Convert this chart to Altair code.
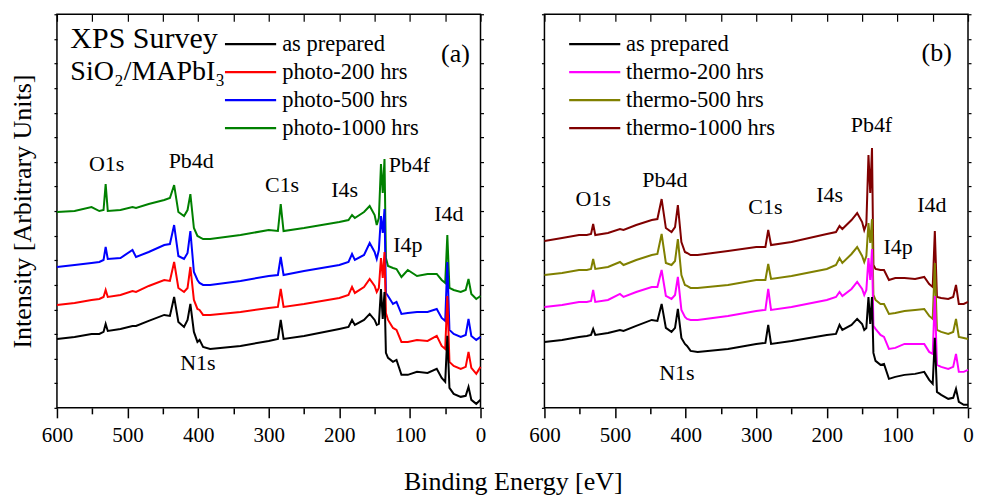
import altair as alt
import pandas as pd

FONT = "Liberation Serif"

# Binding energy grid (eV) shared by every spectrum
energy = [600, 575, 551, 540, 534, 531, 528, 510, 493, 488, 470, 448, 440, 434, 428, 420, 415, 411,
          406, 401, 398, 393, 383, 340, 300, 287, 283, 279, 250, 200, 187, 182, 178, 165, 157, 150,
          147, 144, 141, 138.5, 136, 134, 131, 124, 119, 112, 103, 90, 75, 62, 55, 50, 47, 44, 38,
          28, 21, 17, 13, 6, 0]

# Panel (a) - photo aged (arbitrary intensity units, vertically offset as plotted)
as_prepared_a = [69, 71, 74, 74, 76, 84, 77, 79, 82, 82, 87, 93, 92, 111, 86, 81, 88, 104,
                 76, 66, 68, 61, 59, 62, 67, 69, 88, 69, 72, 79, 81, 88, 83, 88, 94, 88,
                 83, 84, 119, 89, 116, 55, 50, 46, 48, 33, 33, 36, 35, 39, 30, 26, 72, 20, 14,
                 11, 12, 21, 8, 4, 8]
photo_200 = [103, 105, 108, 109, 111, 118, 111, 113, 117, 116, 122, 128, 127, 146, 120, 116, 120, 141,
             108, 99, 98, 93, 93, 96, 100, 101, 119, 101, 104, 110, 113, 121, 115, 121, 129, 122,
             116, 120, 150, 130, 156, 95, 88, 80, 78, 66, 66, 68, 67, 72, 62, 59, 112, 46, 42,
             39, 41, 56, 40, 34, 41]
photo_500 = [141, 143, 145, 146, 148, 161, 149, 150, 158, 151, 156, 163, 164, 183, 152, 149, 155, 177,
             136, 128, 125, 123, 123, 127, 132, 133, 151, 133, 137, 143, 146, 154, 148, 153, 165, 156,
             149, 158, 192, 175, 199, 115, 112, 104, 106, 94, 95, 96, 96, 99, 90, 87, 146, 78, 74,
             71, 73, 89, 72, 68, 71]
photo_1000 = [196, 197, 201, 197, 198, 224, 197, 198, 201, 200, 204, 208, 210, 223, 196, 192, 198, 214,
              180, 172, 171, 169, 169, 173, 178, 177, 204, 177, 180, 186, 188, 193, 190, 196, 202, 193,
              183, 190, 244, 215, 249, 150, 142, 140, 139, 131, 138, 132, 134, 134, 128, 125, 173, 120, 118,
              116, 118, 129, 114, 109, 112]

# Panel (b) - thermally aged
as_prepared_b = [66, 68, 71, 72, 73, 79, 73, 75, 78, 77, 82, 88, 87, 104, 80, 76, 80, 99,
                 70, 64, 62, 57, 56, 59, 64, 65, 83, 64, 67, 73, 74, 83, 78, 83, 89, 84,
                 78, 80, 111, 84, 111, 55, 47, 43, 44, 29, 31, 33, 34, 36, 28, 24, 70, 16, 13,
                 9, 10, 19, 6, 3, 3]
thermo_200 = [101, 103, 106, 106, 107, 118, 106, 108, 114, 111, 116, 121, 121, 138, 112, 109, 113, 131,
              98, 91, 89, 88, 88, 92, 97, 98, 119, 98, 101, 108, 111, 116, 112, 119, 126, 119,
              113, 118, 150, 128, 159, 82, 79, 73, 71, 59, 60, 64, 64, 64, 56, 54, 112, 43, 41,
              39, 41, 54, 36, 36, 38]
thermo_500 = [133, 135, 138, 138, 139, 149, 139, 141, 146, 143, 148, 153, 154, 174, 145, 143, 147, 169,
              133, 123, 122, 120, 120, 123, 128, 128, 144, 129, 132, 139, 143, 150, 145, 154, 161, 152,
              146, 152, 185, 165, 189, 113, 108, 104, 104, 94, 95, 97, 98, 99, 92, 89, 145, 78, 76,
              74, 76, 89, 71, 70, 69]
thermo_1000 = [167, 170, 173, 173, 174, 184, 173, 175, 179, 178, 183, 188, 189, 209, 180, 176, 181, 203,
               166, 156, 155, 153, 153, 157, 161, 161, 178, 163, 166, 174, 176, 182, 179, 188, 195, 186,
               178, 184, 253, 215, 260, 143, 139, 138, 138, 128, 130, 130, 129, 131, 124, 121, 177, 111, 110,
               109, 111, 123, 104, 104, 106]

names_a = ["as prepared", "photo-200 hrs", "photo-500 hrs", "photo-1000 hrs"]
colors_a = ["#000000", "#ff0000", "#0000ff", "#008000"]
series_a = [as_prepared_a, photo_200, photo_500, photo_1000]

names_b = ["as prepared", "thermo-200 hrs", "thermo-500 hrs", "thermo-1000 hrs"]
colors_b = ["#000000", "#ff00ff", "#808000", "#800000"]
series_b = [as_prepared_b, thermo_200, thermo_500, thermo_1000]

peak_labels = ["O1s", "Pb4d", "C1s", "I4s", "Pb4f", "I4p", "I4d", "N1s"]
peak_e_a = [529.6, 409.8, 281.1, 192.6, 100.7, 103, 44.8, 400.4]
peak_h_a = [244, 247, 223, 218, 243, 163, 194, 45]
peak_e_b = [531, 429.5, 287, 196, 136.8, 99, 51.3, 412.3]
peak_h_b = [209, 228, 201, 213, 283, 161, 203, 35]

Y_MAX = 394
PANEL_W = 424
xscale = alt.Scale(domain=[0, 600], reverse=True, nice=False)
yscale = alt.Scale(domain=[0, Y_MAX], nice=False, zero=False)
y_ticks = [i * Y_MAX / 16 for i in range(17)]
x_ticks = list(range(0, 601, 50))


def make_panel(names, colors, series, pe, ph, legend_e1, legend_e2, label_e, with_title, extra):
    layers = []
    order = list(range(len(names)))[::-1]  # draw top series first, "as prepared" last
    first = True
    for i in order:
        df = pd.DataFrame({"E": energy, "h": series[i]})
        if first:
            xa = alt.Axis(values=x_ticks, orient="bottom", title=None, grid=False, domain=False,
                          labelExpr="datum.value % 100 === 0 ? datum.label : ''",
                          tickSize={"condition": {"test": "datum.value % 100 === 0", "value": 10}, "value": 6},
                          tickWidth=1.5, tickColor="black", labelFont=FONT, labelFontSize=21,
                          labelColor="black", labelPadding=7, labelFlush=False, labelOverlap=False)
            ya = alt.Axis(values=y_ticks, orient="left", labels=False, grid=False, domain=False,
                          tickSize=3, tickWidth=1.2, tickColor="black",
                          title="Intensity [Arbitrary Units]" if with_title else None,
                          titleFont=FONT, titleFontSize=26, titleFontWeight="normal",
                          titleColor="black", titlePadding=18)
            first = False
        else:
            xa = None
            ya = None
        layers.append(
            alt.Chart(df).mark_line(color=colors[i], strokeWidth=2).encode(
                x=alt.X("E:Q", scale=xscale, axis=xa),
                y=alt.Y("h:Q", scale=yscale, axis=ya),
            )
        )
    # peak annotations
    adf = pd.DataFrame({"E": pe, "h": ph, "t": peak_labels})
    layers.append(
        alt.Chart(adf).mark_text(font=FONT, fontSize=22, color="black", align="center", baseline="middle").encode(
            x=alt.X("E:Q", scale=xscale, axis=None),
            y=alt.Y("h:Q", scale=yscale, axis=None),
            text="t:N",
        )
    )
    # legend
    top_h = 364
    step = 28
    ldf = pd.DataFrame({
        "name": names,
        "color": colors,
        "h": [top_h - k * step for k in range(len(names))],
        "e1": legend_e1,
        "e2": legend_e2,
        "el": label_e,
    })
    layers.append(
        alt.Chart(ldf).mark_rule(strokeWidth=2.2).encode(
            x=alt.X("e1:Q", scale=xscale, axis=None),
            x2="e2:Q",
            y=alt.Y("h:Q", scale=yscale, axis=None),
            color=alt.Color("color:N", scale=None),
        )
    )
    layers.append(
        alt.Chart(ldf).mark_text(font=FONT, fontSize=22.5, color="black", align="left", baseline="middle").encode(
            x=alt.X("el:Q", scale=xscale, axis=None),
            y=alt.Y("h:Q", scale=yscale, axis=None),
            text="name:N",
        )
    )
    # extra texts (panel tag, sample title)
    for (txt, e, h, size, align) in extra:
        tdf = pd.DataFrame({"E": [e], "h": [h], "t": [txt]})
        layers.append(
            alt.Chart(tdf).mark_text(font=FONT, fontSize=size, color="black", align=align, baseline="middle").encode(
                x=alt.X("E:Q", scale=xscale, axis=None),
                y=alt.Y("h:Q", scale=yscale, axis=None),
                text="t:N",
            )
        )
    # frame ticks: top (pointing inward) and right
    fdf = pd.DataFrame({"E": energy, "h": series[0]})
    layers.append(
        alt.Chart(fdf).mark_point(opacity=0, size=1).encode(
            x=alt.X("E:Q", scale=xscale,
                    axis=alt.Axis(values=x_ticks, orient="top", labels=False, title=None, grid=False,
                                  domain=False, tickSize=7, offset=-7, tickWidth=1.2, tickColor="black")),
            y=alt.Y("h:Q", scale=yscale,
                    axis=alt.Axis(values=y_ticks, orient="right", labels=False, title=None, grid=False,
                                  domain=False, tickSize=3, tickWidth=1.2, tickColor="black")),
        )
    )
    return alt.layer(*layers).resolve_scale(x="independent", y="independent").properties(
        width=PANEL_W, height=Y_MAX
    )


panel_a = make_panel(names_a, colors_a, series_a, peak_e_a, peak_h_a, 362, 289.5, 281, True,
                     [("XPS Survey", 581, 369, 30, "left"),
                      ("SiO\u2082/MAPbI\u2083", 581, 336, 28, "left"),
                      ("(a)", 35.4, 354, 26, "center")])
panel_b = make_panel(names_b, colors_b, series_b, peak_e_b, peak_h_b, 565, 492.6, 484.6, False,
                     [("(b)", 44.3, 355, 26, "center")])

chart = alt.hconcat(panel_a, panel_b, spacing=41).properties(
    title=alt.TitleParams("Binding Energy [eV]", orient="bottom", anchor="middle", font=FONT,
                          fontSize=26, fontWeight="normal", color="black", offset=22, dx=22),
    padding={"left": 0, "top": 4, "right": 0, "bottom": 0},
).configure_view(stroke="black", strokeWidth=1.5)

chart.save("out.html", embed_options={"renderer": "svg", "actions": False})
